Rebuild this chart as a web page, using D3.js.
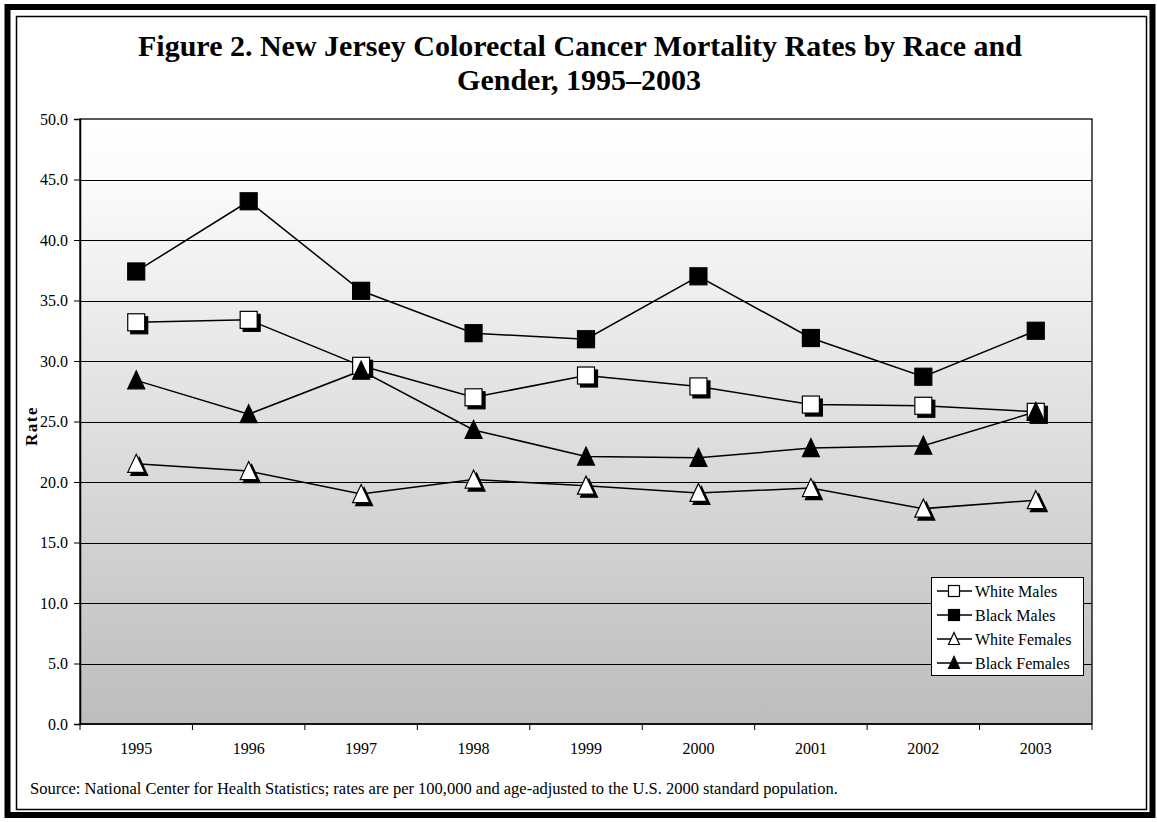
<!DOCTYPE html>
<html>
<head>
<meta charset="utf-8">
<script src="https://cdn.jsdelivr.net/npm/d3@7"></script>
<style>
  body { margin: 0; background: #fff; }
  text { font-family: "Liberation Serif", "Times New Roman", serif; fill: #000; }
</style>
</head>
<body>
<div id="chart"></div>
<script>
// data
var years = ["1995", "1996", "1997", "1998", "1999", "2000", "2001", "2002", "2003"];
var whiteMales   = [33.2, 33.4, 29.6, 27.0, 28.8, 27.9, 26.4, 26.3, 25.8];
var blackMales   = [37.4, 43.2, 35.8, 32.3, 31.8, 37.0, 31.9, 28.7, 32.5];
var whiteFemales = [21.5, 20.9, 19.0, 20.2, 19.7, 19.1, 19.5, 17.8, 18.5];
var blackFemales = [28.4, 25.6, 29.2, 24.3, 22.1, 22.0, 22.8, 23.0, 25.8];
var yTicks = [0, 5, 10, 15, 20, 25, 30, 35, 40, 45, 50];

var series = [
    {name: "White Males",   values: whiteMales,   shape: "square",   fill: "#fff"},
    {name: "Black Males",   values: blackMales,   shape: "square",   fill: "#000"},
    {name: "White Females", values: whiteFemales, shape: "triangle", fill: "#fff"},
    {name: "Black Females", values: blackFemales, shape: "triangle", fill: "#000"}
];

var W = 1157, H = 822;
var plot = {left: 80, right: 1092, top: 119, bottom: 724};

var svg = d3.select("#chart").append("svg")
    .attr("width", W)
    .attr("height", H);

// outer frame
svg.append("rect")
    .attr("x", 7.5).attr("y", 7).attr("width", 1145).attr("height", 808)
    .attr("fill", "none").attr("stroke", "#000").attr("stroke-width", 6);
svg.append("rect")
    .attr("x", 16.5).attr("y", 16.5).attr("width", 1130).attr("height", 793)
    .attr("fill", "none").attr("stroke", "#000").attr("stroke-width", 1.5);

// title
var title = svg.append("text")
    .attr("text-anchor", "middle")
    .style("font-size", "30px")
    .style("font-weight", "bold");
title.append("tspan").attr("x", 580).attr("y", 56)
    .text("Figure 2. New Jersey Colorectal Cancer Mortality Rates by Race and");
title.append("tspan").attr("x", 579).attr("y", 90)
    .text("Gender, 1995\u20132003");

// background gradient
var defs = svg.append("defs");
var grad = defs.append("linearGradient")
    .attr("id", "bg").attr("x1", 0).attr("y1", 0).attr("x2", 0).attr("y2", 1);
grad.append("stop").attr("offset", "0%").attr("stop-color", "#ffffff");
grad.append("stop").attr("offset", "10%").attr("stop-color", "#fbfbfb");
grad.append("stop").attr("offset", "100%").attr("stop-color", "#bdbdbd");

var shadow = defs.append("filter").attr("id", "shadow")
    .attr("x", "-50%").attr("y", "-50%").attr("width", "200%").attr("height", "200%");
shadow.append("feOffset").attr("in", "SourceAlpha").attr("dx", 3).attr("dy", 3).attr("result", "off");
shadow.append("feFlood").attr("flood-color", "#000").attr("result", "col");
shadow.append("feComposite").attr("in", "col").attr("in2", "off").attr("operator", "in").attr("result", "sh");
var merge = shadow.append("feMerge");
merge.append("feMergeNode").attr("in", "sh");
merge.append("feMergeNode").attr("in", "SourceGraphic");

var x = d3.scaleBand().domain(years).range([plot.left, plot.right]);
var y = d3.scaleLinear().domain([0, 50]).range([plot.bottom, plot.top]);

svg.append("rect")
    .attr("x", plot.left).attr("y", plot.top)
    .attr("width", plot.right - plot.left).attr("height", plot.bottom - plot.top)
    .attr("fill", "url(#bg)").attr("stroke", "#000").attr("stroke-width", 1.3);

// gridlines
svg.append("g").selectAll("line")
    .data(yTicks.filter(function(d) { return d > 0 && d < 50; }))
    .enter().append("line")
    .attr("x1", plot.left).attr("x2", plot.right)
    .attr("y1", function(d) { return Math.round(y(d)) + 0.5; })
    .attr("y2", function(d) { return Math.round(y(d)) + 0.5; })
    .attr("stroke", "#000").attr("stroke-width", 1);

// y axis
var yAxis = svg.append("g")
    .attr("transform", "translate(" + plot.left + ",0)")
    .call(d3.axisLeft(y).tickValues(yTicks).tickFormat(d3.format(".1f")).tickSize(6).tickPadding(6));
yAxis.attr("font-size", null).attr("font-family", null);
yAxis.select(".domain").attr("stroke-width", 1.5);
yAxis.selectAll("text").style("font-size", "16px");

// x axis with ticks at band edges
var xAxis = svg.append("g")
    .attr("transform", "translate(0," + plot.bottom + ")");
xAxis.append("line")
    .attr("x1", plot.left).attr("x2", plot.right)
    .attr("stroke", "#000").attr("stroke-width", 1.5);
xAxis.selectAll("line.tick")
    .data(years.concat(["end"]))
    .enter().append("line")
    .attr("class", "tick")
    .attr("x1", function(d, i) { return plot.left + i * x.step(); })
    .attr("x2", function(d, i) { return plot.left + i * x.step(); })
    .attr("y1", 0).attr("y2", 6)
    .attr("stroke", "#000");
xAxis.selectAll("text")
    .data(years)
    .enter().append("text")
    .attr("x", function(d) { return x(d) + x.bandwidth() / 2; })
    .attr("y", 30)
    .attr("text-anchor", "middle")
    .style("font-size", "16px")
    .text(function(d) { return d; });

// y label
svg.append("text")
    .attr("transform", "translate(37,426) rotate(-90)")
    .attr("text-anchor", "middle")
    .style("font-size", "17px")
    .style("font-weight", "bold")
    .style("letter-spacing", "1.5px")
    .text("Rate");

function marker(sel, shape, size) {
    if (shape === "square") {
        sel.append("rect")
            .attr("x", -size / 2).attr("y", -size / 2)
            .attr("width", size).attr("height", size);
    } else {
        var h = size;
        sel.append("path")
            .attr("d", "M0," + (-h / 2 - 1) + "L" + (size / 2) + "," + (h / 2) + "L" + (-size / 2) + "," + (h / 2) + "Z");
    }
}

var line = d3.line()
    .x(function(d, i) { return x(years[i]) + x.bandwidth() / 2; })
    .y(function(d) { return y(d); });

series.forEach(function(s) {
    svg.append("path")
        .datum(s.values)
        .attr("d", line)
        .attr("fill", "none")
        .attr("stroke", "#000")
        .attr("stroke-width", 1.5);
});

series.forEach(function(s) {
    svg.append("g").selectAll("g")
        .data(s.values)
        .enter().append("g")
        .attr("transform", function(d, i) {
            return "translate(" + (x(years[i]) + x.bandwidth() / 2) + "," + y(d) + ")";
        })
        .each(function() {
            var g = d3.select(this);
            marker(g, s.shape, 17);
            g.selectAll("rect,path")
                .attr("fill", s.fill)
                .attr("stroke", "#000")
                .attr("stroke-width", 1.2)
                .attr("filter", s.fill === "#fff" ? "url(#shadow)" : null);
        });
});

// legend
var legend = svg.append("g").attr("transform", "translate(931,577)");
legend.append("rect")
    .attr("x", 0.5).attr("y", 0.5).attr("width", 152).attr("height", 98)
    .attr("fill", "#fff").attr("stroke", "#000").attr("stroke-width", 1);
series.forEach(function(s, i) {
    var row = legend.append("g").attr("transform", "translate(0," + (14 + i * 24) + ")");
    row.append("line")
        .attr("x1", 6).attr("x2", 41)
        .attr("stroke", "#000").attr("stroke-width", 1.5);
    var m = row.append("g").attr("transform", "translate(23,0)");
    marker(m, s.shape, 11);
    m.selectAll("rect,path").attr("fill", s.fill).attr("stroke", "#000").attr("stroke-width", 1.2);
    row.append("text")
        .attr("x", 44).attr("y", 5.5)
        .style("font-size", "16px")
        .text(s.name);
});

// source note
svg.append("text")
    .attr("x", 30).attr("y", 794)
    .style("font-size", "16.5px")
    .text("Source: National Center for Health Statistics; rates are per 100,000 and age-adjusted to the U.S. 2000 standard population.");
</script>
</body>
</html>
